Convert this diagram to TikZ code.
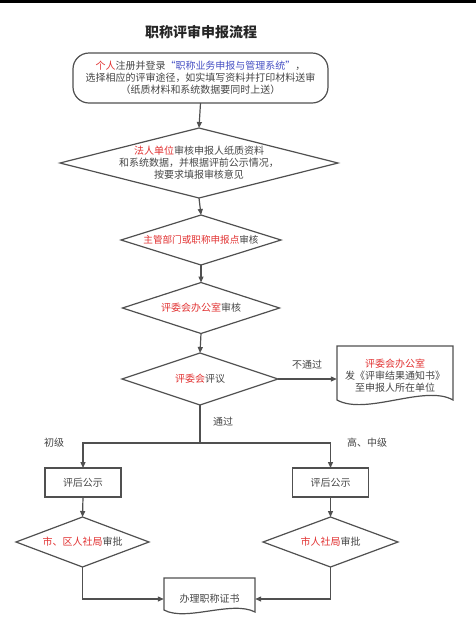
\documentclass[tikz,border=0pt]{standalone}
\usepackage{fontspec}
\setmainfont{Noto Sans CJK SC}
\usetikzlibrary{shapes.geometric,arrows.meta}
\definecolor{tred}{RGB}{226,50,50}
\definecolor{tblue}{RGB}{70,80,196}
\definecolor{tg}{RGB}{70,70,70}
\definecolor{lc}{RGB}{80,80,80}
\tikzset{
  ln/.style={draw=lc, line width=1.2pt},
  arr/.style={ln, -{Triangle[length=6pt,width=5pt]}},
  dia/.style={diamond, draw=lc, line width=1.2pt, inner sep=0pt, outer sep=0pt},
  txt/.style={font=\fontsize{10}{12}\selectfont, text=tg, align=center, inner sep=0pt},
  stxt/.style={txt, font=\fontsize{9.6}{12}\selectfont},
  lbl/.style={font=\fontsize{10}{12}\selectfont, text=tg, inner sep=0pt},
  rbox/.style={rectangle, rounded corners=16pt, draw=lc, line width=1.2pt, outer sep=0pt},
  sbox/.style={rectangle, draw=lc, line width=1.2pt, outer sep=0pt, minimum width=76pt, minimum height=29pt}
}
\newcommand{\rd}[1]{\textcolor{tred}{#1}}
\begin{document}
\begin{tikzpicture}[x=1pt,y=-1pt]
\useasboundingbox (0,0) rectangle (476,638);
\fill[white] (0,0) rectangle (476,638);
\fill[black] (0,0) rectangle (476,2.5);
\node[font=\fontsize{14}{16}\selectfont\bfseries, text=black!85] (title) at (201,32) {职称评审申报流程};
% start box
\node[rbox, minimum width=255pt, minimum height=50pt, txt, draw=lc] (start) at (200.5,78)
  {\rd{个人}注册并登录\textcolor{tblue}{“职称业务申报与管理系统”}，\\选择相应的评审途径，如实填写资料并打印材料送审\\（纸质材料和系统数据要同时上送）};
% diamonds
\node[dia, minimum width=278pt, minimum height=70pt] (d1) at (199,163) {};
\node[txt] at (d1) {\rd{法人单位}审核申报人纸质资料\\和系统数据，并根据评前公示情况，\\按要求填报审核意见};
\node[dia, minimum width=160pt, minimum height=50pt] (d2) at (201,240) {};
\node[stxt] at (d2) {\rd{主管部门或职称申报点}审核};
\node[dia, minimum width=157pt, minimum height=51pt] (d3) at (201,308) {};
\node[txt] at (d3) {\rd{评委会办公室}审核};
\node[dia, minimum width=156pt, minimum height=52pt] (d4) at (200,379) {};
\node[txt] at (d4) {\rd{评委会}评议};
% right document
\draw[ln] (337,346) -- (453,346) -- (453,400) .. controls (425,384) and (366,416) .. (337,400) -- cycle;
\node[txt, minimum width=116pt] (nd) at (395,376) {\rd{评委会办公室}\\发《评审结果通知书》\\至申报人所在单位};
% branch
\coordinate (br) at (200,443);
\node[sbox, txt] (lb) at (83,482.5) {评后公示};
\node[sbox, txt] (rb) at (330.5,482.5) {评后公示};
\node[dia, minimum width=133pt, minimum height=50pt] (ld) at (82.5,542) {};
\node[txt] at (ld) {\rd{市、区人社局}审批};
\node[dia, minimum width=135pt, minimum height=50pt] (rd) at (330.5,542) {};
\node[txt] at (rd) {\rd{市人社局}审批};
% bottom document
\draw[ln] (164,578) -- (255,578) -- (255,612) .. controls (232,600) and (186,622) .. (164,610) -- cycle;
\node[txt, minimum width=91pt] (cert) at (209.5,599) {办理职称证书};
% connectors
\draw[arr] (start.south) -- (d1.north);
\draw[arr] (d1.south) -- (d2.north);
\draw[arr] (d2.south) -- (d3.north);
\draw[arr] (d3.south) -- (d4.north);
\draw[arr] (d4.east) -- (d4.east -| nd.west);
\draw[ln] (d4.south) -- (br);
\draw[arr] (br) -| (lb.north);
\draw[arr] (br) -| (rb.north);
\draw[arr] (lb.south) -- (ld.north);
\draw[arr] (rb.south) -- (rd.north);
\draw[arr] (ld.south) |- (cert.west);
\draw[arr] (rd.south) |- (cert.east);
% labels
\node[lbl] (l1) at (307,365) {不通过};
\node[lbl] (l2) at (223,422) {通过};
\node[lbl] (l3) at (54,443) {初级};
\node[lbl] (l4) at (367,443) {高、中级};
\end{tikzpicture}
\end{document}
